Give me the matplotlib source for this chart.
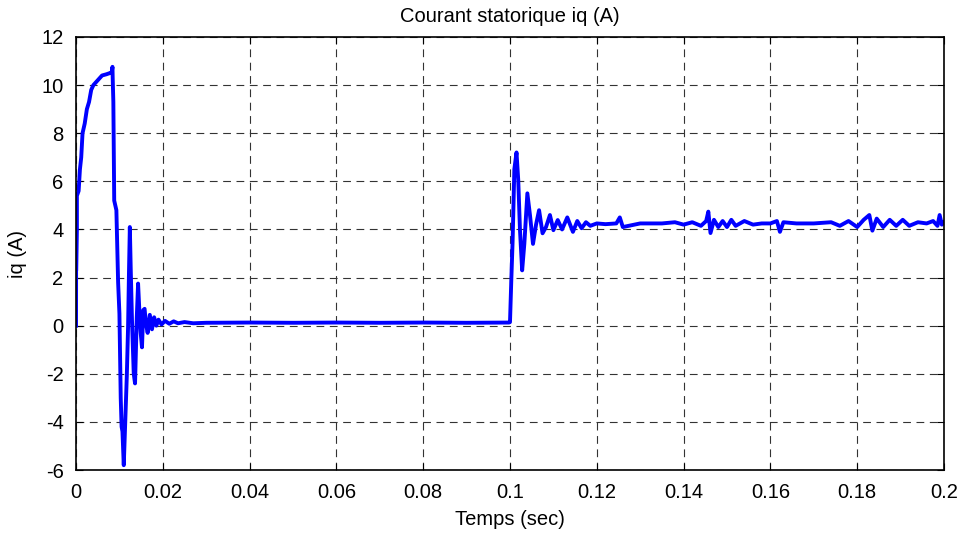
import numpy as np
import matplotlib
matplotlib.use("Agg")
import matplotlib.pyplot as plt

plt.rcParams['font.family'] = ['Liberation Sans', 'DejaVu Sans']
plt.rcParams['axes.unicode_minus'] = False

# temps (s) et courant iq (A)
t = [0.0, 0.00002, 0.00005, 0.0002, 0.0002, 0.0006, 0.0009, 0.0012, 0.0015, 0.002,
     0.0025, 0.003, 0.0035, 0.004, 0.005, 0.006, 0.007, 0.0078, 0.0082, 0.0084,
     0.00845, 0.0086, 0.0088, 0.0093, 0.0097, 0.0100, 0.0103, 0.0105, 0.0107,
     0.0110, 0.0113, 0.0117, 0.0120, 0.0122, 0.0124, 0.0126, 0.0129, 0.0133,
     0.0136, 0.0138, 0.0140, 0.0143, 0.0146, 0.0149, 0.0152, 0.0155, 0.0158,
     0.0161, 0.0165, 0.0170, 0.0175, 0.0180, 0.0185, 0.0190, 0.0197, 0.0205,
     0.0215, 0.0225, 0.0235, 0.0250, 0.0270, 0.0300, 0.0400, 0.0500, 0.0600,
     0.0700, 0.0800, 0.0900, 0.0998, 0.1000, 0.1003, 0.1006, 0.1010, 0.1015,
     0.1019, 0.1023, 0.1028, 0.1033, 0.1040, 0.1046, 0.1053, 0.1060, 0.1067,
     0.1075, 0.1083, 0.1092, 0.1100, 0.1110, 0.1120, 0.1132, 0.1145, 0.1155,
     0.1165, 0.1175, 0.1185, 0.1200, 0.1220, 0.1245, 0.1253, 0.1260, 0.1300,
     0.1350, 0.1380, 0.1400, 0.1420, 0.1440, 0.1452, 0.1457, 0.1462, 0.1470,
     0.1480, 0.1490, 0.1500, 0.1510, 0.1520, 0.1540, 0.1560, 0.1580, 0.1600,
     0.1615, 0.1622, 0.1630, 0.1660, 0.1700, 0.1740, 0.1760, 0.1780, 0.1800,
     0.1815, 0.1828, 0.1835, 0.1845, 0.1860, 0.1875, 0.1890, 0.1905, 0.1920,
     0.1940, 0.1960, 0.1975, 0.1985, 0.1990, 0.1995, 0.2000]
iq = [0.0, 2.3, 2.3, 4.0, 5.4, 5.6, 6.5, 7.0, 8.0, 8.4,
      9.0, 9.3, 9.8, 10.0, 10.2, 10.4, 10.45, 10.5, 10.5, 10.76,
      10.3, 9.3, 5.2, 4.8, 1.8, 0.5, -3.0, -4.2, -4.4,
      -5.8, -4.2, -2.1, 0.0, 2.2, 4.1, 2.4, 0.2, -2.0,
      -2.4, -1.0, 0.35, 1.75, 0.6, -0.3, -0.9, 0.65, 0.7,
      0.1, -0.3, 0.45, -0.15, 0.35, 0.0, 0.25, 0.05, 0.2,
      0.08, 0.18, 0.1, 0.15, 0.1, 0.12, 0.13, 0.12, 0.13,
      0.12, 0.13, 0.12, 0.13, 0.15, 1.9, 3.5, 6.5, 7.2,
      6.05, 3.97, 2.3, 3.4, 5.5, 4.6, 3.4, 4.2, 4.8,
      3.84, 4.1, 4.6, 3.97, 4.39, 4.0, 4.5, 3.9, 4.35,
      4.05, 4.3, 4.15, 4.25, 4.22, 4.25, 4.5, 4.1, 4.25,
      4.25, 4.3, 4.2, 4.3, 4.15, 4.35, 4.74, 3.85, 4.4,
      4.1, 4.35, 4.1, 4.4, 4.15, 4.35, 4.2, 4.25, 4.25,
      4.35, 3.9, 4.3, 4.25, 4.25, 4.3, 4.15, 4.35, 4.1,
      4.4, 4.6, 3.95, 4.45, 4.1, 4.4, 4.15, 4.4, 4.15,
      4.3, 4.25, 4.35, 4.15, 4.6, 4.2, 4.3]

fig = plt.figure(figsize=(9.66, 5.4), dpi=100)
ax = fig.add_axes([0.0787, 0.1296, 0.8985, 0.8019])

ax.plot(t, iq, color=(0, 0, 1), linewidth=2.8)

ax.set_xlim(0, 0.2)
ax.set_ylim(-6, 12)
ax.set_xticks(np.arange(0, 0.2001, 0.02))
ax.set_xticklabels(['0', '0.02', '0.04', '0.06', '0.08', '0.1', '0.12',
                    '0.14', '0.16', '0.18', '0.2'])
ax.set_yticks(np.arange(-6, 12.01, 2))

ax.grid(True, color='#333333', linestyle=(0, (7, 5)), linewidth=0.8)
ax.tick_params(direction='in', length=5, labelsize=14.5, top=True, right=True,
               labeltop=False, labelright=False)
ax.tick_params(axis='x', pad=9)
ax.tick_params(axis='y', pad=9)
for s in ax.spines.values():
    s.set_linewidth(1.2)

ax.set_title('Courant statorique iq (A)', fontsize=14.5, pad=11)
ax.set_xlabel('Temps (sec)', fontsize=14.5, labelpad=6)
ax.set_ylabel('iq (A)', fontsize=14.5, labelpad=10)

fig.savefig('out.png', dpi=100)
